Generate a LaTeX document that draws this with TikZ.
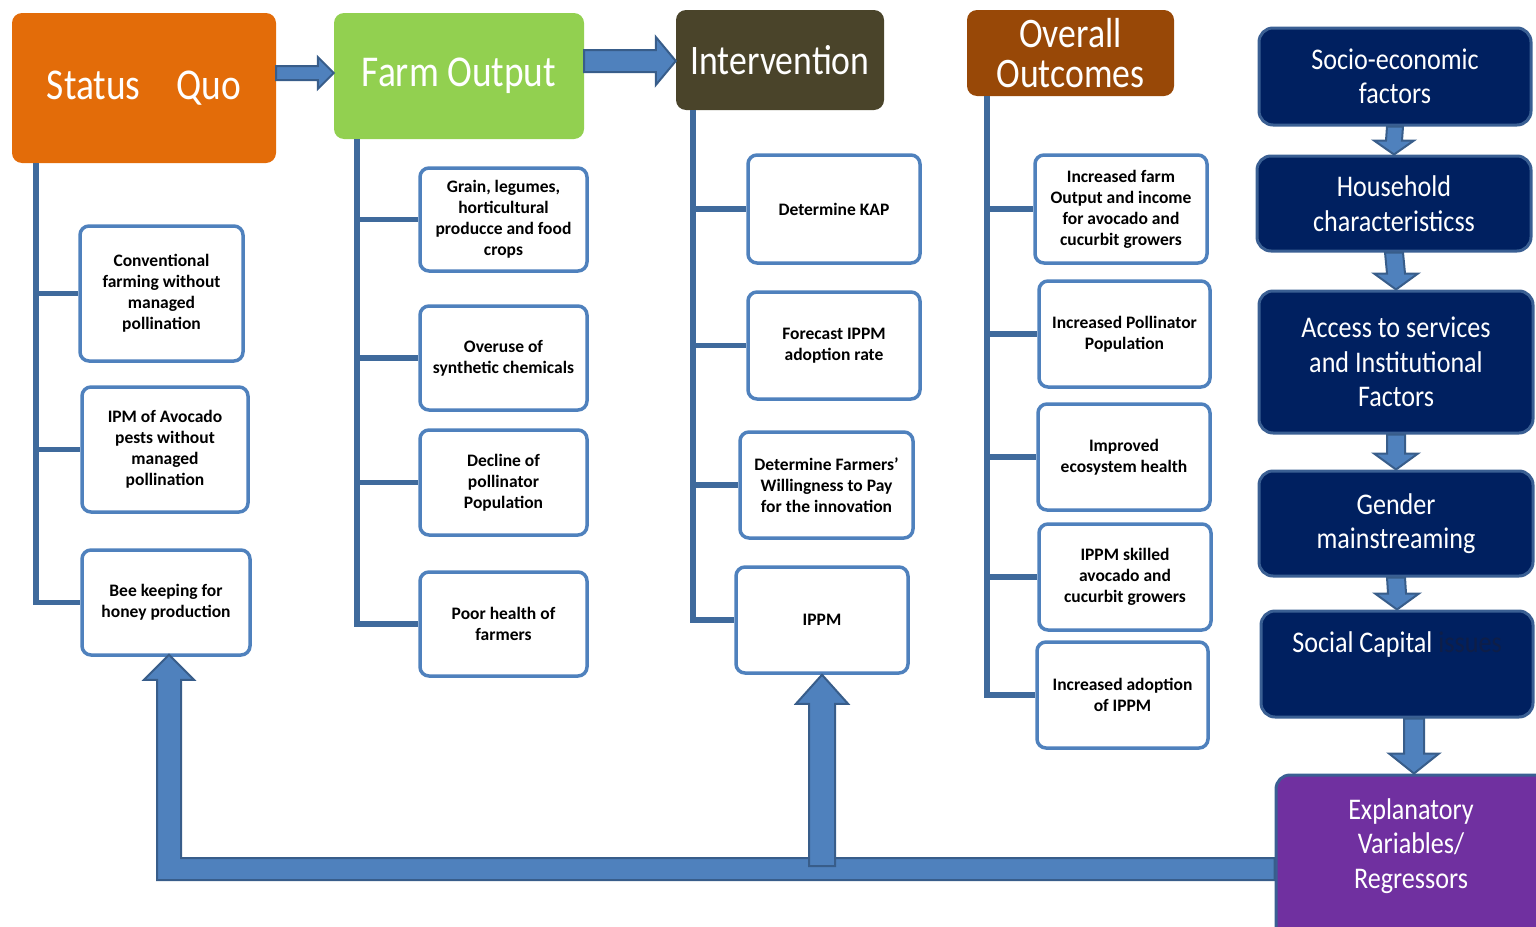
\documentclass[tikz,border=0pt]{standalone}
\usepackage{fontspec}
\setmainfont{Carlito}
\newfontfamily\hdrfont[FakeStretch=0.85]{Carlito}
\newfontfamily\colfont[FakeStretch=0.87]{Carlito}
\usetikzlibrary{calc}
\definecolor{sqorange}{HTML}{E36C09}
\definecolor{fogreen}{HTML}{92D050}
\definecolor{ivolive}{HTML}{4A442A}
\definecolor{oobrown}{HTML}{984807}
\definecolor{navy}{HTML}{002060}
\definecolor{navyedge}{HTML}{3A5F93}
\definecolor{purp}{HTML}{7030A0}
\definecolor{arrowfill}{HTML}{4F81BD}
\definecolor{arrowedge}{HTML}{385D8A}
\definecolor{boxblue}{HTML}{4F81BD}
\definecolor{trunkcol}{HTML}{3F6A9C}
\definecolor{issuecol}{HTML}{0E1E48}
\newcommand{\rarrowblk}[5]{%
  \draw[blockarrow] ($(#1)+(0,-#3)$) -- ($(#2)+(-#5,-#3)$) -- ($(#2)+(-#5,-#4)$) -- (#2)
    -- ($(#2)+(-#5,#4)$) -- ($(#2)+(-#5,#3)$) -- ($(#1)+(0,#3)$) -- cycle;}
\newcommand{\darrowblk}[5]{%
  \draw[blockarrow] ($(#1)+(-#3,0)$) -- ($(#2)+(-#3,-#5)$) -- ($(#2)+(-#4,-#5)$) -- (#2)
    -- ($(#2)+(#4,-#5)$) -- ($(#2)+(#3,-#5)$) -- ($(#1)+(#3,0)$) -- cycle;}
\begin{document}
\begin{tikzpicture}[x=1pt,y=-1pt,
  hdr/.style={rounded corners=10pt, inner sep=0pt, align=center, text=white,
    font=\hdrfont\fontsize{44}{40}\selectfont},
  smallbox/.style={draw=boxblue, line width=3.5pt, fill=white, rounded corners=9pt,
    inner sep=0pt, align=center, text=black, font=\bfseries\fontsize{17.5}{21}\selectfont},
  colbox/.style={fill=navy, draw=navyedge, line width=3pt, rounded corners=14pt,
    inner sep=0pt, align=center, text=white, font=\colfont\fontsize{30}{34.5}\selectfont},
  coltext/.style={inner sep=0pt, align=center, text=white, font=\colfont\fontsize{30}{34.5}\selectfont},
  trunk/.style={draw=trunkcol, line width=5.5pt},
  blockarrow/.style={fill=arrowfill, draw=arrowedge, line width=2pt, line join=miter}]
\useasboundingbox (0,0) rectangle (1536,926);

% ---------- header boxes ----------
\node[hdr, fill=sqorange, minimum width=264, minimum height=150] (sq) at (144,88) {Status\hspace{36pt}Quo};
\node[hdr, fill=fogreen, minimum width=250, minimum height=126] (fo) at (459,76) {Farm Output};
\node[hdr, fill=ivolive, minimum width=208, minimum height=100, font=\hdrfont\fontsize{42}{40}\selectfont] (iv) at (780,60) {Intervention};
\node[hdr, fill=oobrown, minimum width=207, minimum height=86, font=\hdrfont\fontsize{42}{40}\selectfont] (oo) at (1070.5,53) {Overall\\Outcomes};

% ---------- right column ----------
\node[colbox, minimum width=272, minimum height=97] (se) at (1395,76.5) {Socio-economic\\factors};
\node[colbox, minimum width=274, minimum height=95] (hh) at (1394,203.5) {Household\\characteristicss};
\node[colbox, minimum width=274, minimum height=142] (ac) at (1396,362) {Access to services\\and Institutional\\Factors};
\node[colbox, minimum width=274, minimum height=105] (gm) at (1396,523.5) {Gender\\mainstreaming};
\node[colbox, minimum width=272, minimum height=106] (sc) at (1397,664) {};
\node[coltext] (sct) at (1397,644) {Social Capital {\color{issuecol}issues}};
\node[colbox, fill=purp, minimum width=273, minimum height=170] (ex) at (1412.5,860) {};
\node[coltext] (ext) at (1411,846) {Explanatory\\Variables/\\Regressors};

% ---------- trunks ----------
\coordinate (sqx) at (36,0);
\coordinate (fox) at (357,0);
\coordinate (ivx) at (693,0);
\coordinate (oox) at (987,0);

% ---------- small boxes ----------
\node[smallbox, minimum width=163, minimum height=135] (conv) at (161.5,293.5) {Conventional\\farming without\\managed\\pollination};
\node[smallbox, minimum width=166, minimum height=125] (ipm) at (165,449.5) {IPM of Avocado\\pests without\\managed\\pollination};
\node[smallbox, minimum width=168, minimum height=105] (bee) at (166,602.5) {Bee keeping for\\honey production};

\node[smallbox, minimum width=167, minimum height=103] (grain) at (503.5,219.5) {Grain, legumes,\\horticultural\\producce and food\\crops};
\node[smallbox, minimum width=167, minimum height=104] (over) at (503.5,358) {Overuse of\\synthetic chemicals};
\node[smallbox, minimum width=167, minimum height=105] (decl) at (503.5,482.5) {Decline of\\pollinator\\Population};
\node[smallbox, minimum width=167, minimum height=104] (poor) at (503.5,624) {Poor health of\\farmers};

\node[smallbox, minimum width=172, minimum height=108] (kap) at (834,209) {Determine KAP};
\node[smallbox, minimum width=172, minimum height=107] (fore) at (834,345.5) {Forecast IPPM\\adoption rate};
\node[smallbox, minimum width=173, minimum height=106] (wtp) at (826.5,485) {Determine Farmers'\\Willingness to Pay\\for the innovation};
\node[smallbox, minimum width=172, minimum height=106] (ippm) at (822,620) {IPPM};

\node[smallbox, minimum width=172, minimum height=108] (inc) at (1121,209) {Increased farm\\Output and income\\for avocado and\\cucurbit growers};
\node[smallbox, minimum width=171, minimum height=106] (pol) at (1124.5,334) {Increased Pollinator\\Population};
\node[smallbox, minimum width=172, minimum height=106] (eco) at (1124,457) {Improved\\ecosystem health};
\node[smallbox, minimum width=172, minimum height=106] (skill) at (1125,577) {IPPM skilled\\avocado and\\cucurbit growers};
\node[smallbox, minimum width=171, minimum height=106] (adopt) at (1122.5,695) {Increased adoption\\of IPPM};

% ---------- tree connectors ----------
\draw[trunk] (sqx |- sq.south) -- (sqx |- bee.west) -- (bee.west);
\draw[trunk] (sqx |- conv.west) -- (conv.west);
\draw[trunk] (sqx |- ipm.west) -- (ipm.west);

\draw[trunk] (fox |- fo.south) -- (fox |- poor.west) -- (poor.west);
\draw[trunk] (fox |- grain.west) -- (grain.west);
\draw[trunk] (fox |- over.west) -- (over.west);
\draw[trunk] (fox |- decl.west) -- (decl.west);

\draw[trunk] (ivx |- iv.south) -- (ivx |- ippm.west) -- (ippm.west);
\draw[trunk] (ivx |- kap.west) -- (kap.west);
\draw[trunk] (ivx |- fore.west) -- (fore.west);
\draw[trunk] (ivx |- wtp.west) -- (wtp.west);

\draw[trunk] (oox |- oo.south) -- (oox |- adopt.west) -- (adopt.west);
\draw[trunk] (oox |- inc.west) -- (inc.west);
\draw[trunk] (oox |- pol.west) -- (pol.west);
\draw[trunk] (oox |- eco.west) -- (eco.west);
\draw[trunk] (oox |- skill.west) -- (skill.west);

% ---------- block arrows ----------
\coordinate (a1y) at (0,73);
\coordinate (a2y) at (0,61);
\rarrowblk{sq.east |- a1y}{fo.west |- a1y}{7}{16}{16}
\rarrowblk{fo.east |- a2y}{iv.west |- a2y}{11}{24}{20}

\darrowblk{se.south}{hh.north}{8}{20}{14}
\darrowblk{hh.south}{ac.north}{9}{22}{16}
\darrowblk{ac.south}{gm.north}{9}{22}{16}
\darrowblk{gm.south}{sc.north}{9}{22}{16}
\coordinate (a7x) at (1414,0);
\darrowblk{a7x |- sc.south}{a7x |- ex.north}{10}{25}{20}

% ---------- feedback arrows ----------
\coordinate (barT) at (0,858);
\coordinate (barB) at (0,880);
\coordinate (beetip) at ($(bee.south)+(3,-2)$);
\draw[blockarrow] (ex.west |- barT) -- ($(beetip |- barT)+(12,0)$) -- ($(beetip)+(12,25)$)
  -- ($(beetip)+(25,25)$) -- (beetip) -- ($(beetip)+(-25,25)$) -- ($(beetip)+(-12,25)$)
  -- ($(beetip |- barB)+(-12,0)$) -- (ex.west |- barB) -- cycle;
\draw[blockarrow] ($(ippm.south |- barT)+(-13,8)$) -- ($(ippm.south)+(-13,29)$) -- ($(ippm.south)+(-26,29)$)
  -- (ippm.south) -- ($(ippm.south)+(26,29)$) -- ($(ippm.south)+(13,29)$)
  -- ($(ippm.south |- barT)+(13,8)$) -- cycle;
\end{tikzpicture}
\end{document}
